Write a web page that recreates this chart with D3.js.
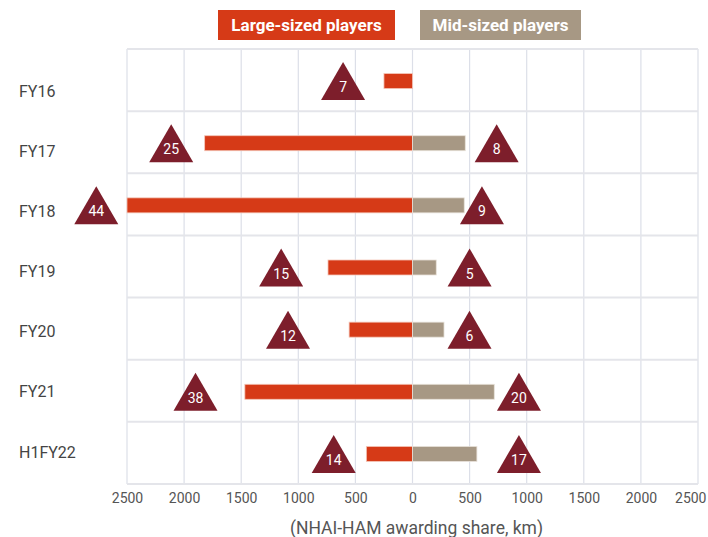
<!DOCTYPE html>
<html>
<head>
<meta charset="utf-8">
<script src="https://cdn.jsdelivr.net/npm/d3@7/dist/d3.min.js"></script>
<style>
  html, body { margin: 0; padding: 0; background: #fff; }
  svg { display: block; }
  text { font-family: Roboto, "Noto Sans", sans-serif; }
</style>
</head>
<body>
<svg id="chart" width="708" height="537"></svg>
<script>
// ---- Data ----
const categories = ["FY16", "FY17", "FY18", "FY19", "FY20", "FY21", "H1FY22"];
const largeKm = [250, 1820, 2500, 740, 555, 1468, 404];     // plotted to the left
const midKm = [0, 462, 453, 208, 276, 716, 564];            // plotted to the right
const largeCount = [7, 25, 44, 15, 12, 38, 14];
const midCount = [null, 8, 9, 5, 6, 20, 17];
const largeMarkerKm = [-608, -2113, -2769, -1150, -1090, -1900, -690];
const midMarkerKm = [null, 737, 608, 500, 499, 932, 932];
const tickValues = [-2500, -2000, -1500, -1000, -500, 0, 500, 1000, 1500, 2000, 2500];
const legendLabels = ["Large-sized players", "Mid-sized players"];
const axisTitle = "(NHAI-HAM awarding share, km)";

// ---- Styles ----
const cLarge = "#D63A17";
const cMid = "#A79884";
const cTri = "#7D1E2B";

const svg = d3.select("#chart");

const x = d3.scaleLinear().domain([-2500, 2500]).range([127, 698]);
const y = d3.scaleBand().domain(categories).range([49, 484]).padding(0);
const yLabel = d3.scalePoint().domain(categories).range([91, 452]);

// grid: vertical
svg.append("g").selectAll("line").data(tickValues).join("line")
  .attr("x1", d => x(d)).attr("x2", d => x(d))
  .attr("y1", y.range()[0]).attr("y2", y.range()[1])
  .attr("stroke", "#DCDFE8").attr("stroke-width", 1.2);

// grid: horizontal row boundaries
const bounds = categories.map(c => y(c)).concat([y.range()[1]]);
svg.append("g").selectAll("line").data(bounds).join("line")
  .attr("x1", x(-2500)).attr("x2", x(2500))
  .attr("y1", d => d).attr("y2", d => d)
  .attr("stroke", "#E4E5EA").attr("stroke-width", 2);

// bars
const barH = 15;
const rows = categories.map((c, i) => ({ c, i }));
svg.append("g").selectAll("rect.large").data(rows).join("rect")
  .attr("class", "large")
  .attr("x", d => x(-largeKm[d.i]))
  .attr("width", d => x(0) - x(-largeKm[d.i]))
  .attr("y", d => y(d.c) + y.bandwidth() / 2 - barH / 2 + 1)
  .attr("height", barH)
  .attr("fill", cLarge)
  .attr("stroke", "#F4C6B8").attr("stroke-width", 0.8);

svg.append("g").selectAll("rect.mid").data(rows.filter(d => midKm[d.i] > 0)).join("rect")
  .attr("class", "mid")
  .attr("x", x(0))
  .attr("width", d => x(midKm[d.i]) - x(0))
  .attr("y", d => y(d.c) + y.bandwidth() / 2 - barH / 2 + 1)
  .attr("height", barH)
  .attr("fill", cMid)
  .attr("stroke", "#E8E2DA").attr("stroke-width", 0.8);

// triangle markers
const triW = 44, triH = 38;
const markers = [];
rows.forEach(d => {
  markers.push({ c: d.c, km: largeMarkerKm[d.i], n: largeCount[d.i] });
  if (midMarkerKm[d.i] != null) markers.push({ c: d.c, km: midMarkerKm[d.i], n: midCount[d.i] });
});
const mg = svg.append("g").selectAll("g").data(markers).join("g")
  .attr("transform", d => `translate(${x(d.km)},${y(d.c) + y.bandwidth() / 2 + 1})`);
mg.append("path")
  .attr("d", `M0,${-triH / 2} L${triW / 2},${triH / 2} L${-triW / 2},${triH / 2} Z`)
  .attr("fill", cTri);
mg.append("text")
  .attr("x", 0).attr("y", 6)
  .attr("text-anchor", "middle").attr("dominant-baseline", "central")
  .attr("fill", "#fff").attr("font-size", 14)
  .text(d => d.n);

// category labels
svg.append("g").selectAll("text").data(categories).join("text")
  .attr("x", 19)
  .attr("y", d => yLabel(d))
  .attr("dominant-baseline", "central")
  .attr("fill", "#444").attr("font-size", 16)
  .text(d => d);

// x axis
const axis = d3.axisBottom(x).tickValues(tickValues).tickSize(0).tickPadding(0)
  .tickFormat(d => Math.abs(d));
const ag = svg.append("g").attr("transform", "translate(0,498)").call(axis);
ag.select(".domain").remove();
ag.selectAll("text").attr("font-size", 14).attr("fill", "#555")
  .attr("font-family", "Roboto, sans-serif")
  .attr("y", 0).attr("dy", null).attr("dominant-baseline", "central");
// keep the outermost right label inside the picture
ag.selectAll(".tick").filter(d => d === 2500).select("text")
  .attr("text-anchor", "end").attr("x", 8);

// axis title
svg.append("text")
  .attr("x", x(0) + 4).attr("y", 528)
  .attr("text-anchor", "middle").attr("dominant-baseline", "central")
  .attr("fill", "#555").attr("font-size", 17.5)
  .text(axisTitle);

// legend
const legendBoxes = [
  { label: legendLabels[0], color: cLarge, x0: 218, x1: 395 },
  { label: legendLabels[1], color: cMid, x0: 420, x1: 581 }
];
const lg = svg.append("g").selectAll("g").data(legendBoxes).join("g");
lg.append("rect")
  .attr("x", d => d.x0).attr("y", 10)
  .attr("width", d => d.x1 - d.x0).attr("height", 30)
  .attr("fill", d => d.color);
lg.append("text")
  .attr("x", d => (d.x0 + d.x1) / 2).attr("y", 25)
  .attr("text-anchor", "middle").attr("dominant-baseline", "central")
  .attr("fill", "#fff").attr("font-size", 17).attr("font-weight", "bold")
  .text(d => d.label);
</script>
</body>
</html>
